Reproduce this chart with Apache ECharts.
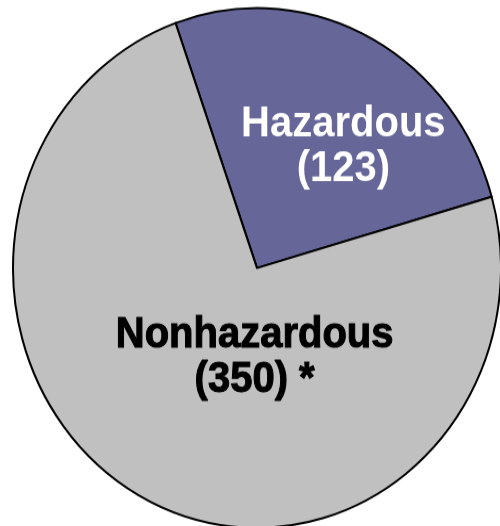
<!DOCTYPE html>
<html>
<head>
    <meta charset="utf-8">
    <title>Waste pie</title>
    <script src="https://cdn.jsdelivr.net/npm/echarts@6/dist/echarts.min.js"></script>
    <style>
        html {
            overflow: hidden;
        }
        html, body {
            margin: 0;
            padding: 0;
            width: 500px;
            height: 526px;
            background: #fff;
        }
        /* the original picture is a little stretched vertically */
        #main {
            width: 500px;
            height: 494px;
            transform: scaleY(1.065);
            transform-origin: 0 0;
            overflow: visible;
        }
    </style>
</head>
<body>
    <div id="main"></div>

<script type="text/javascript">
    var categories = ['Hazardous', 'Nonhazardous'];
    var values = [123, 350];
    var labelTexts = ['Hazardous\n(123)', 'Nonhazardous\n(350) *'];

    var colors = ['#666699', '#c0c0c0'];
    var labelColors = ['#ffffff', '#000000'];
    var labelOffsets = [[29, -3], [55, -27]];

    // canvas a bit taller than the box so the bottom of the pie is not cut
    var myChart = echarts.init(document.getElementById('main'), null, {width: 500, height: 500});

    var pieData = categories.map(function (name, i) {
        return {
            name: name,
            value: values[i],
            itemStyle: {color: colors[i]},
            label: {
                formatter: labelTexts[i],
                color: labelColors[i],
                offset: labelOffsets[i],
                textBorderColor: labelColors[i],
                textBorderWidth: i == 1 ? 1 : 0
            }
        };
    });

    var option = {
        animation: false,
        series: [
            {
                type: 'pie',
                center: [257, 251.6],
                radius: [0, 244],
                startAngle: 109.5,
                clockwise: true,
                data: pieData,
                itemStyle: {
                    borderColor: '#000',
                    borderWidth: 2
                },
                label: {
                    show: true,
                    position: 'inside',
                    fontFamily: 'Liberation Sans, Arial, sans-serif',
                    fontWeight: 'bold',
                    fontSize: 40,
                    lineHeight: 42,
                    align: 'center'
                },
                labelLine: {show: false},
                emphasis: {disabled: true}
            }
        ]
    };

    myChart.setOption(option);
</script>

</body>
</html>
